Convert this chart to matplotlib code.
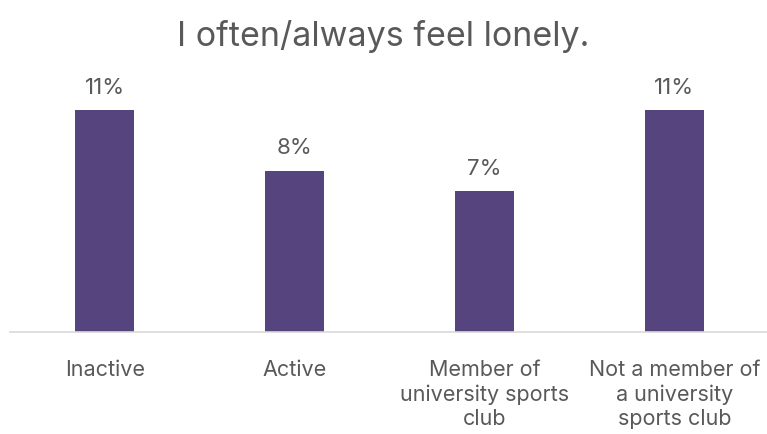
import matplotlib
matplotlib.use("Agg")
import matplotlib.pyplot as plt
import numpy as np

plt.rcParams['font.family'] = ['Inter', 'DejaVu Sans']

categories = ['Inactive', 'Active', 'Member of\nuniversity sports\nclub',
              'Not a member of\na university\nsports club']
values = [11, 8, 7, 11]
value_labels = ['11%', '8%', '7%', '11%']

bar_color = '#56447e'
text_color = '#595959'

fig = plt.figure(figsize=(7.67, 4.35), dpi=100)
ax = fig.add_axes([0.013, 0.234, 0.99, 0.557])

x = np.arange(len(categories))
bars = ax.bar(x, values, width=0.31, color=bar_color)

# percentage above each bar
for b, lab in zip(bars, value_labels):
    ax.annotate(lab, (b.get_x() + b.get_width() / 2, b.get_height()),
                xytext=(0, 12.5), textcoords='offset points',
                ha='center', va='baseline', fontsize=16, color=text_color)

ax.set_xlim(-0.5, len(categories) - 0.5)
ax.set_ylim(0, 12)
ax.set_xticks(x)
ax.set_xticklabels(categories, fontsize=15.5, color=text_color, linespacing=1.28)
ax.tick_params(axis='x', length=0, pad=19)
ax.set_yticks([])
for s in ['top', 'right', 'left']:
    ax.spines[s].set_visible(False)
ax.spines['bottom'].set_color('#d9d9d9')
ax.spines['bottom'].set_linewidth(1.2)

fig.text(0.5, 0.915, 'I often/always feel lonely.', ha='center', va='center',
         fontsize=24.5, color=text_color)

fig.savefig('out.png', dpi=100)
